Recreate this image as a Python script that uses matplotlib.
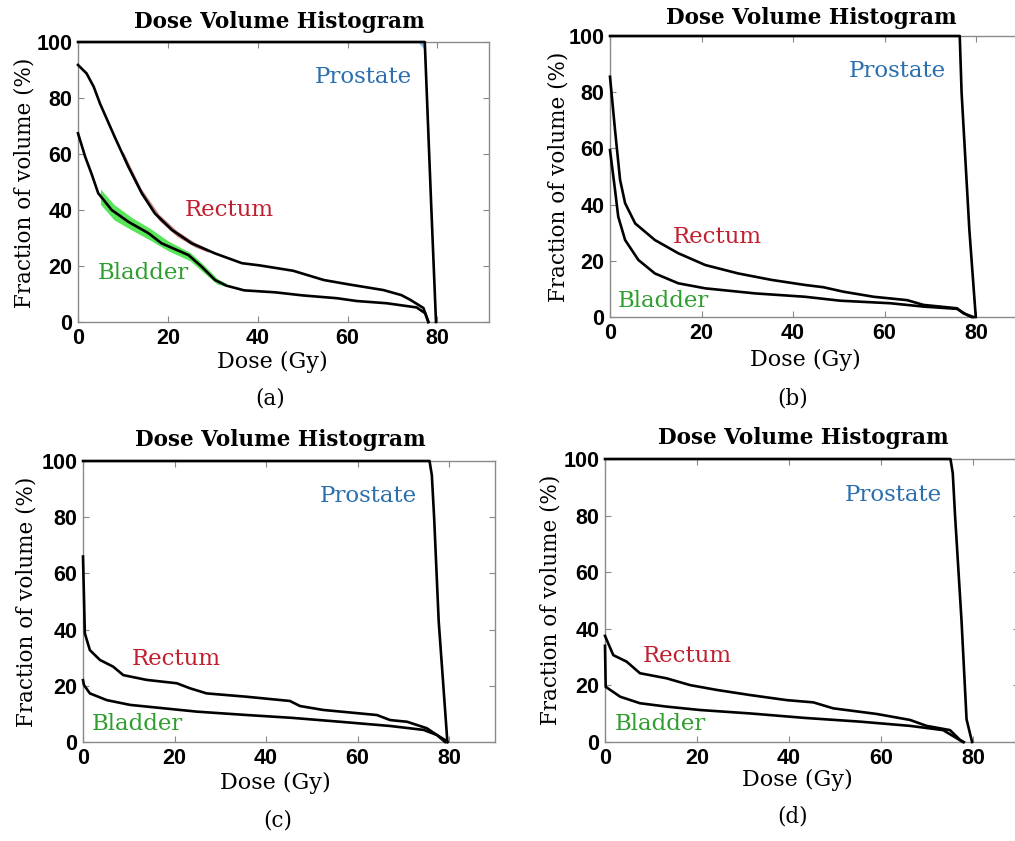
import matplotlib
matplotlib.use("Agg")
import matplotlib.pyplot as plt

# ---- data ----
# panel (a)
a_rectum_x = [0, 1.9, 3.5, 4.9, 8.2, 11.2, 14.2, 17.1, 20.9, 25.3, 30.5, 36.5, 40.5, 47.9, 54.7, 60, 68, 72, 74, 76.9, 78]
a_rectum_y = [91.8, 88.8, 84, 78, 66, 55.5, 46, 38.8, 32.9, 28.1, 24.5, 21, 20.2, 18.3, 15, 13.5, 11.4, 9.6, 7.9, 5, 0]
a_bladder_x = [0, 1.6, 3, 4.5, 7.5, 11.2, 15.7, 18.6, 24.6, 27.5, 30.5, 33, 37, 43.9, 50, 57.6, 62, 68.7, 75.4, 77.3, 78]
a_bladder_y = [67.4, 59, 53, 46, 40, 35.8, 31.7, 28.1, 23.9, 19.8, 15, 13, 11.3, 10.6, 9.5, 8.5, 7.5, 6.7, 5.2, 3.1, 0]
a_prostate_x = [0, 77.2, 78.6, 79.7]
a_prostate_y = [100, 100, 43, 0]
# uncertainty bands shown in panel (a)
a_bladder_band_x = [5, 8, 12, 16, 20, 25, 28, 31, 33]
a_bladder_band_lo = [42, 36.5, 32.8, 29.3, 25.5, 21.8, 17.6, 13.5, 12.8]
a_bladder_band_hi = [47.5, 42, 37.3, 33.5, 29, 24.8, 20.4, 15.5, 13.8]
a_rectum_band_x = [10, 14, 18, 22, 26, 29]
a_rectum_band_lo = [58.5, 45.5, 36.3, 30.6, 26.8, 24.9]
a_rectum_band_hi = [61, 47.8, 38.5, 32.6, 28.4, 26.1]
a_prostate_band_x = [75.9, 77.3]
a_prostate_band_lo = [99.6, 97]
a_prostate_band_hi = [100, 100]

# panel (b)
b_rectum_x = [0, 1.1, 2.2, 3.3, 5.5, 9.8, 14.9, 20.8, 28, 35.3, 42.6, 46.6, 51, 57.6, 64.9, 68.5, 75.8, 77.2, 79.4]
b_rectum_y = [85.5, 66.5, 48.8, 40.5, 33.3, 27.4, 22.7, 18.5, 15.5, 13.2, 11.4, 10.6, 9, 7.2, 6, 4.3, 3.1, 1.3, 0]
b_bladder_x = [0, 1.1, 1.8, 3.3, 6.2, 9.8, 14.9, 20.8, 31.7, 42.6, 50.3, 61.2, 68.5, 75.8, 78, 79]
b_bladder_y = [59.4, 45.2, 35.7, 27.4, 20.3, 15.5, 12, 10.2, 8.4, 7.2, 5.8, 4.9, 3.7, 2.9, 0.7, 0]
b_prostate_x = [0, 76.4, 76.8, 78.5, 79.9]
b_prostate_y = [100, 100, 80, 31, 0]

# panel (c)
c_rectum_x = [0, 0.4, 1.5, 3.7, 6.6, 8.8, 13.9, 20.5, 23.4, 27, 35.8, 45.2, 47.4, 52.5, 64.2, 67.1, 70.8, 75.1, 77.3, 79.1, 79.6]
c_rectum_y = [66, 38.7, 32.7, 29.2, 26.8, 23.8, 22.1, 20.9, 19.1, 17.3, 16.1, 14.6, 12.8, 11.4, 9.6, 7.8, 7.2, 4.9, 2.5, 0.7, 0]
c_bladder_x = [0, 0.2, 1.5, 5.2, 10.3, 17.6, 24.9, 35.8, 45.6, 56.2, 67.1, 74.4, 77.3, 79.1]
c_bladder_y = [22, 20.3, 17.3, 14.9, 13.2, 12, 10.8, 9.6, 8.6, 7.2, 5.7, 4.3, 2.5, 0]
c_prostate_x = [0, 75.7, 76.2, 76.7, 77.7, 79.6]
c_prostate_y = [100, 100, 95, 80, 43, 0]

# panel (d)
d_rectum_x = [0, 1.8, 4.7, 7.6, 13.4, 18.5, 24.3, 31.5, 39.5, 45.3, 49.6, 59.1, 66.3, 69.9, 75, 77.2, 78]
d_rectum_y = [37.5, 30.7, 28.4, 24.3, 22.5, 20.1, 18.4, 16.6, 14.8, 14, 11.9, 9.9, 7.8, 5.7, 4.2, 0.7, 0]
d_bladder_x = [0, 0.15, 3.3, 7.6, 13.4, 20.7, 31.5, 43.5, 55.4, 66.3, 73.5, 76.5, 77.8]
d_bladder_y = [34, 19.5, 16, 13.7, 12.5, 11.3, 10.1, 8.5, 7.2, 5.7, 4.2, 1.3, 0]
d_prostate_x = [0, 75.1, 75.6, 76.1, 77.5, 78.6, 79.8]
d_prostate_y = [100, 100, 95, 80, 43, 8, 0]

panel_letters = ["(a)", "(b)", "(c)", "(d)"]
x_ticks = [0, 20, 40, 60, 80]
y_ticks = [0, 20, 40, 60, 80, 100]

# ---- layout in pixels of the 1015x841 picture ----
W, H = 1015, 841
SERIF = "DejaVu Serif"

fig = plt.figure(figsize=(W / 100, H / 100), dpi=100)
fig.patch.set_facecolor("white")


def px_axes(left, right, top, bottom):
    return fig.add_axes([left / W, 1 - bottom / H, (right - left) / W, (bottom - top) / H])


def ftext(x, y, s, **kw):
    fig.text(x / W, 1 - y / H, s, ha="center", va="center", family=SERIF, **kw)


panels = [
    # axes box, xmax, title xy, xlabel xy, letter xy, ylabel xy
    dict(box=(78, 489, 42, 322), xmax=91.5, title=(279, 22), xl=(272, 362), let=(270, 399), yl=(25, 183),
         rx=a_rectum_x, ry=a_rectum_y, bx=a_bladder_x, by=a_bladder_y, px=a_prostate_x, py=a_prostate_y,
         lab=[(63.5, 87.5), (33.6, 40), (14.5, 17.5)]),
    dict(box=(610, 1022, 36, 317), xmax=90, title=(811, 18), xl=(805, 360), let=(793, 398), yl=(558, 177),
         rx=b_rectum_x, ry=b_rectum_y, bx=b_bladder_x, by=b_bladder_y, px=b_prostate_x, py=b_prostate_y,
         lab=[(62.7, 87.5), (23.4, 28.5), (11.6, 5.7)]),
    dict(box=(83, 495, 461, 742), xmax=90, title=(280, 440), xl=(275, 783), let=(278, 820), yl=(27, 602),
         rx=c_rectum_x, ry=c_rectum_y, bx=c_bladder_x, by=c_bladder_y, px=c_prostate_x, py=c_prostate_y,
         lab=[(62.3, 87.5), (20.3, 29.5), (11.8, 6.4)]),
    dict(box=(605, 1019, 459, 742), xmax=90, title=(803, 438), xl=(797, 780), let=(793, 817), yl=(550, 600),
         rx=d_rectum_x, ry=d_rectum_y, bx=d_bladder_x, by=d_bladder_y, px=d_prostate_x, py=d_prostate_y,
         lab=[(62.6, 87.3), (17.8, 30.4), (12, 6.4)]),
]

for i, p in enumerate(panels):
    ax = px_axes(*p["box"])
    ax.set_xlim(0, p["xmax"])
    ax.set_ylim(0, 100)

    if i == 0:
        ax.fill_between(a_bladder_band_x, a_bladder_band_lo, a_bladder_band_hi, color="#22dd22", alpha=0.75, lw=0)
        ax.fill_between(a_rectum_band_x, a_rectum_band_lo, a_rectum_band_hi, color="#a01818", alpha=0.55, lw=0)
        ax.fill_between(a_prostate_band_x, a_prostate_band_lo, a_prostate_band_hi, color="#7ab8e8", alpha=0.9, lw=0)

    for xs, ys in [(p["px"], p["py"]), (p["rx"], p["ry"]), (p["bx"], p["by"])]:
        ax.plot(xs, ys, color="black", lw=1.9, clip_on=False, zorder=3, solid_joinstyle="round")

    (pxl, pyl), (rxl, ryl), (bxl, byl) = p["lab"]
    ax.text(pxl, pyl, "Prostate", color="#2b6fae", fontsize=16.5, family=SERIF, ha="center", va="center")
    ax.text(rxl, ryl, "Rectum", color="#c01f2f", fontsize=16.5, family=SERIF, ha="center", va="center")
    ax.text(bxl, byl, "Bladder", color="#2e9e2e", fontsize=16.5, family=SERIF, ha="center", va="center")

    ax.set_xticks(x_ticks)
    ax.set_yticks(y_ticks)
    ax.tick_params(direction="in", length=4, width=0.8, color="#888888", top=True, right=True,
                   labelsize=15.5, pad=4)
    for lbl in ax.get_xticklabels() + ax.get_yticklabels():
        lbl.set_fontfamily("Liberation Sans")
        lbl.set_fontweight("bold")
    for sp in ax.spines.values():
        sp.set_color("#8a8a8a")
        sp.set_linewidth(1.0)

    ftext(*p["title"], "Dose Volume Histogram", fontsize=15.5, fontweight="bold")
    ftext(*p["xl"], "Dose (Gy)", fontsize=16)
    ftext(*p["yl"], "Fraction of volume (%)", fontsize=15.5, rotation=90)
    ftext(*p["let"], panel_letters[i], fontsize=15.5)

fig.savefig("out.png", dpi=100, facecolor="white")
